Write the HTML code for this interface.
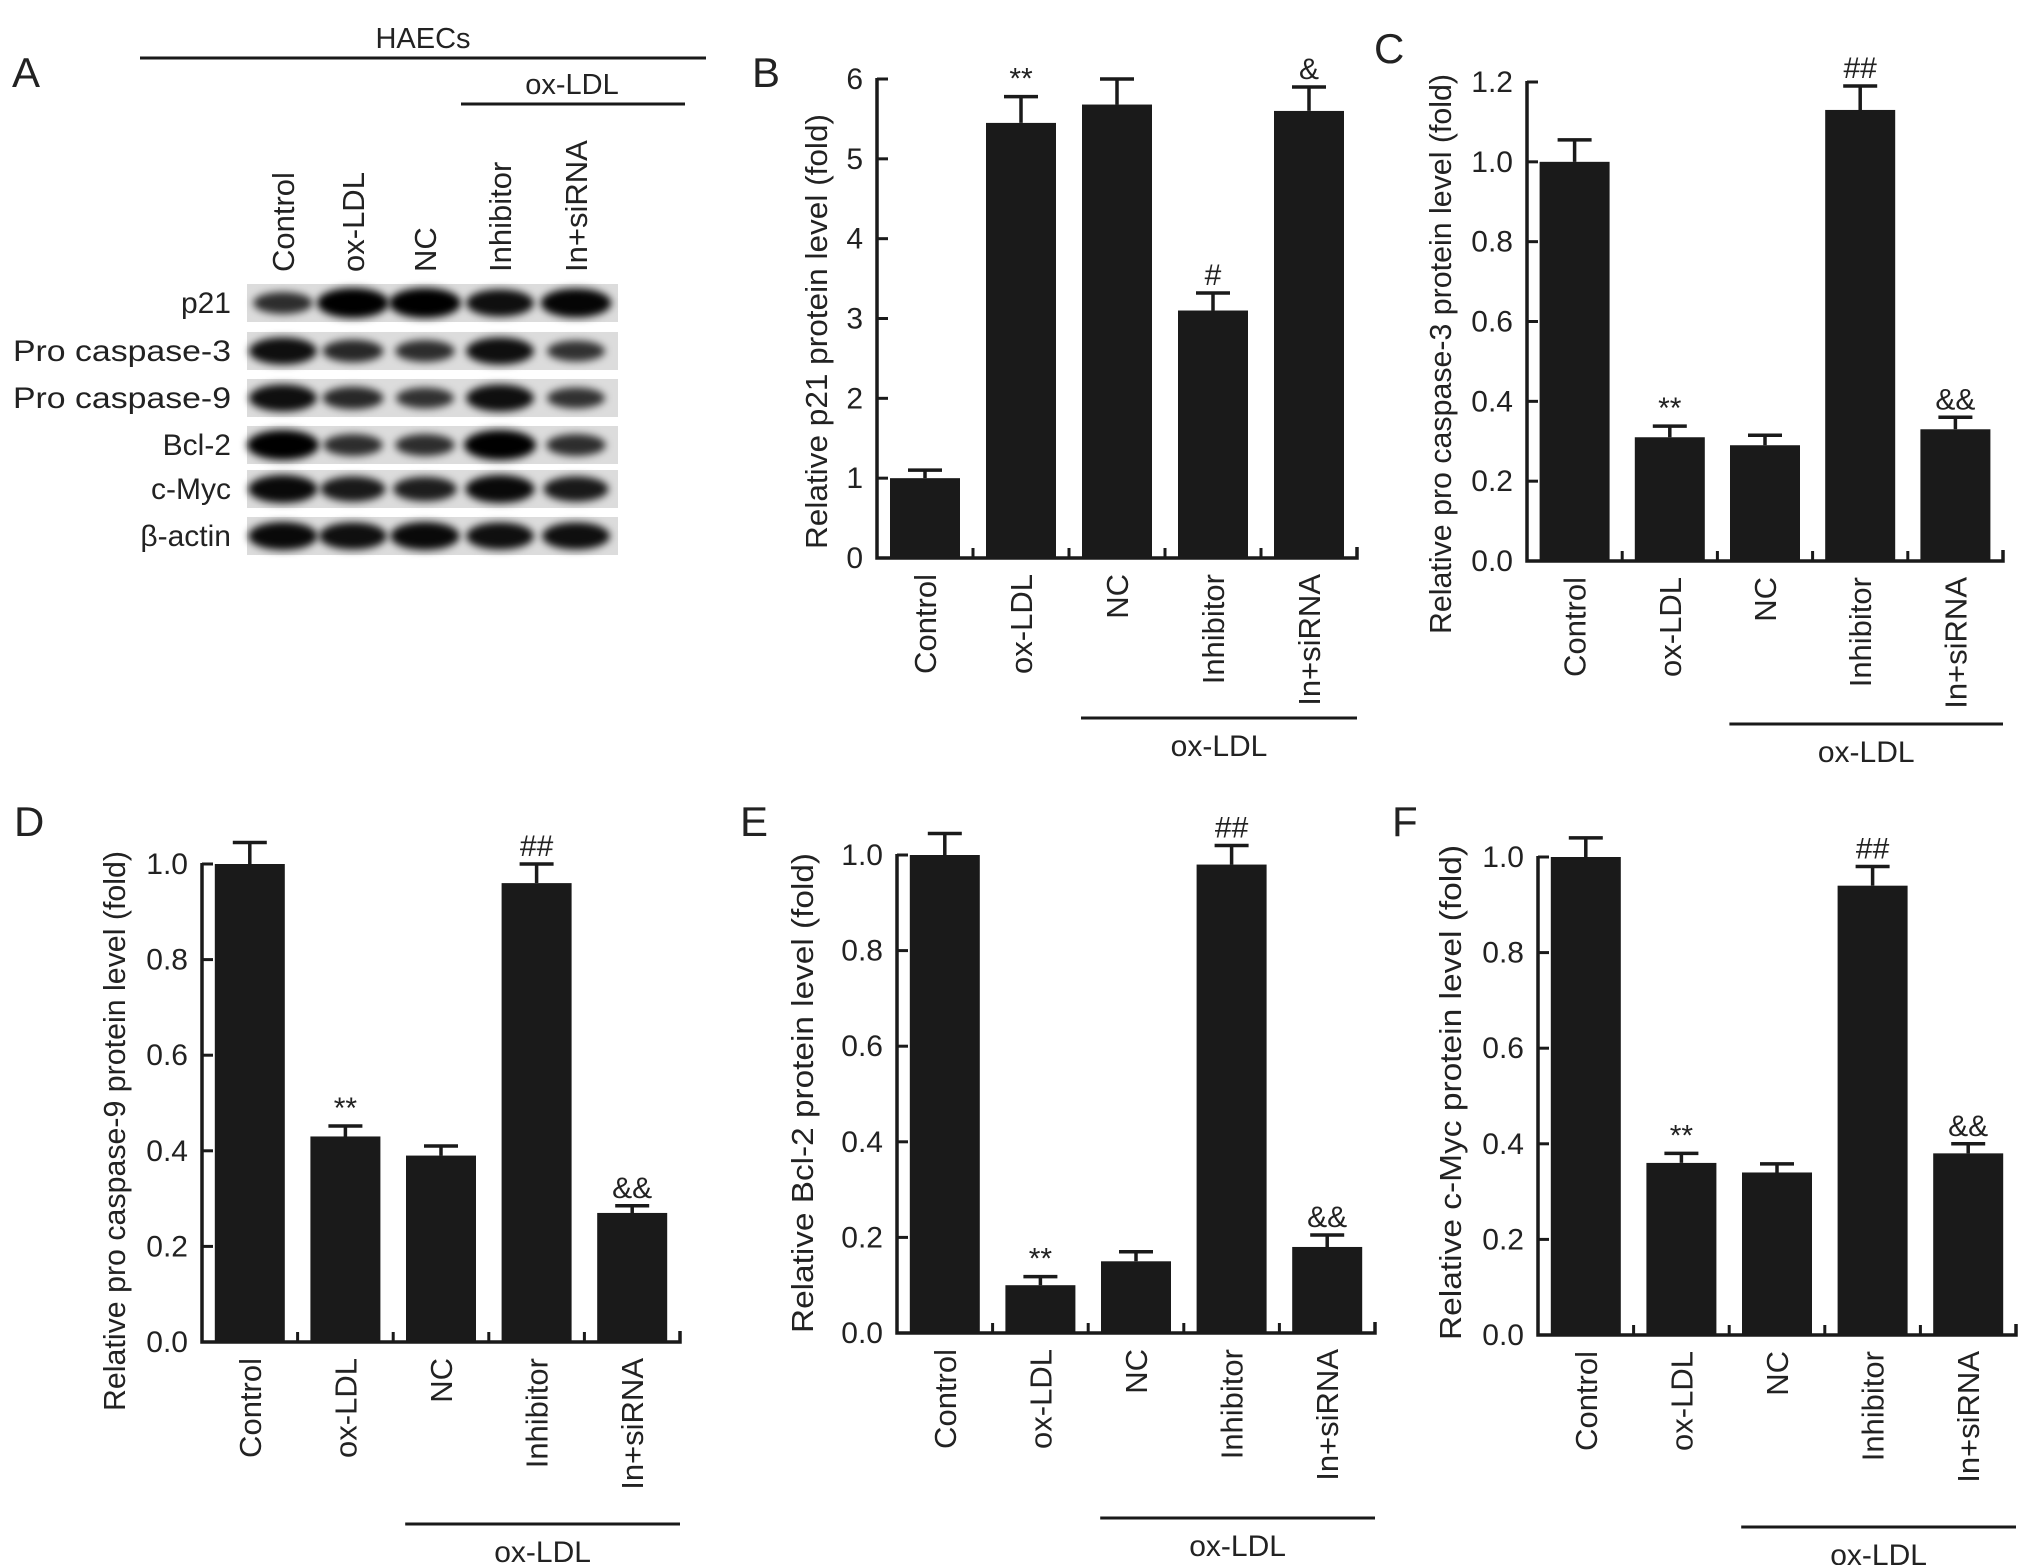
<!DOCTYPE html>
<html><head><meta charset="utf-8"><style>
html,body{margin:0;padding:0;background:#fff;overflow:hidden;}
svg{display:block;font-family:"Liberation Sans",Arial,sans-serif;}
</style></head><body>
<svg id="fig" width="2032" height="1565" viewBox="0 0 2032 1565">
<defs><filter id="blur" x="-30%" y="-80%" width="160%" height="260%"><feGaussianBlur stdDeviation="4"/></filter></defs>
<g id="panelA"></g>
<g id="charts"></g>
</svg>
<script>
// ---- shared categories ----
const categories = ['Control','ox-LDL','NC','Inhibitor','In+siRNA'];
// ---- Panel B: p21 ----
const valuesB = [1.0, 5.45, 5.68, 3.1, 5.6];
const errorsB = [0.1, 0.33, 0.32, 0.22, 0.3];
const marksB  = ['', '**', '', '#', '&'];
const ticksB  = [0,1,2,3,4,5,6];
const tickLabelsB = ['0','1','2','3','4','5','6'];
// ---- Panel C: pro caspase-3 ----
const valuesC = [1.0, 0.31, 0.29, 1.13, 0.33];
const errorsC = [0.055, 0.028, 0.025, 0.06, 0.03];
const marksC  = ['', '**', '', '##', '&&'];
const ticksC  = [0,0.2,0.4,0.6,0.8,1.0,1.2];
const tickLabelsC = ['0.0','0.2','0.4','0.6','0.8','1.0','1.2'];
// ---- Panel D: pro caspase-9 ----
const valuesD = [1.0, 0.43, 0.39, 0.96, 0.27];
const errorsD = [0.045, 0.022, 0.02, 0.04, 0.015];
const marksD  = ['', '**', '', '##', '&&'];
const ticksD  = [0,0.2,0.4,0.6,0.8,1.0];
const tickLabelsD = ['0.0','0.2','0.4','0.6','0.8','1.0'];
// ---- Panel E: Bcl-2 ----
const valuesE = [1.0, 0.10, 0.15, 0.98, 0.18];
const errorsE = [0.045, 0.018, 0.02, 0.04, 0.025];
const marksE  = ['', '**', '', '##', '&&'];
const ticksE  = [0,0.2,0.4,0.6,0.8,1.0];
const tickLabelsE = ['0.0','0.2','0.4','0.6','0.8','1.0'];
// ---- Panel F: c-Myc ----
const valuesF = [1.0, 0.36, 0.34, 0.94, 0.38];
const errorsF = [0.04, 0.02, 0.018, 0.04, 0.02];
const marksF  = ['', '**', '', '##', '&&'];
const ticksF  = [0,0.2,0.4,0.6,0.8,1.0];
const tickLabelsF = ['0.0','0.2','0.4','0.6','0.8','1.0'];
// ---- Panel A blot band intensities (rows x lanes) ----
const blotRows = ['p21','Pro caspase-3','Pro caspase-9','Bcl-2','c-Myc','β-actin'];
const bandP21 = [0.55, 1.0, 1.0, 0.85, 0.95];
const bandC3  = [0.85, 0.6, 0.55, 0.85, 0.5];
const bandC9  = [0.85, 0.6, 0.5, 0.85, 0.5];
const bandBcl = [1.0, 0.55, 0.55, 1.0, 0.55];
const bandMyc = [0.9, 0.75, 0.7, 0.9, 0.75];
const bandAct = [0.9, 0.85, 0.9, 0.85, 0.85];

const NS='http://www.w3.org/2000/svg';
function el(tag, attrs, parent, text){
  const e=document.createElementNS(NS,tag);
  for(const k in attrs) e.setAttribute(k,attrs[k]);
  if(text!==undefined) e.textContent=text;
  parent.appendChild(e); return e;
}

function drawChart(id, geo, values, errors, marks, ticks, tickLabels, title){
  const root=document.getElementById('charts');
  const g=el('g',{},root);
  
  
  const cw=(geo.x1-geo.x0)/categories.length;
  const yMax=ticks[ticks.length-1];
  const yS=v=>geo.y0-(v/yMax)*(geo.y0-geo.yTop);
  const xC=i=>geo.x0+cw*(i+0.5);
  const bw=70;
  values.forEach((v,i)=>{
    const x=xC(i)-bw/2, top=yS(v);
    const b=el('rect',{x:x,y:top,width:bw,height:geo.y0-top,fill:'#1a1a1a'},g);
    
    
    const et=yS(v+errors[i]);
    const eb=el('path',{d:`M${xC(i)},${top} V${et} M${xC(i)-17},${et} H${xC(i)+17}`,stroke:'#1a1a1a','stroke-width':3.5,fill:'none'},g);
    
    
    if(marks[i]){
      const m=el('text',{x:xC(i),y:et-8,'text-anchor':'middle','font-size':30,fill:'#222'},g,marks[i]);
      
      
    }
    const lbl=el('text',{x:0,y:0,'text-anchor':'end','font-size':31,fill:'#222',
      transform:`translate(${xC(i)+11},${geo.y0+16}) rotate(-90)`},g,categories[i]);
    
    
  });
  const ax=el('path',{d:`M${geo.x0},${geo.yTop-1} V${geo.y0} H${geo.x1} v-11`,stroke:'#1a1a1a','stroke-width':3.5,fill:'none'},g);
  
  
  for(let i=1;i<categories.length;i++){
    el('line',{x1:geo.x0+cw*i,x2:geo.x0+cw*i,y1:geo.y0,y2:geo.y0-10,stroke:'#1a1a1a','stroke-width':3},g);
  }
  ticks.forEach((t,i)=>{
    const y=yS(t);
    el('line',{x1:geo.x0,x2:geo.x0+11,y1:y,y2:y,stroke:'#1a1a1a','stroke-width':3},g);
    const tl=el('text',{x:geo.x0-14,y:y+10,'text-anchor':'end','font-size':30,fill:'#222'},g,tickLabels[i]);
    
    
  });
  const yt=el('text',{x:0,y:0,'text-anchor':'start','font-size':31,fill:'#222',textLength:geo.tl,lengthAdjust:'spacingAndGlyphs',
    transform:`translate(${geo.tx+11},${geo.tEnd}) rotate(-90)`},g,title);
  
  
  const lx0=geo.x0+2*cw+12;
  el('line',{x1:lx0,x2:geo.x1,y1:geo.gy,y2:geo.gy,stroke:'#1a1a1a','stroke-width':3},g);
  const gl=el('text',{x:(lx0+geo.x1)/2,y:geo.gy+38,'text-anchor':'middle','font-size':30,fill:'#222'},g,'ox-LDL');
  
  
  const pl=el('text',{x:geo.lx,y:geo.ly,'font-size':42,fill:'#222'},g,geo.letter);
  
  
}

drawChart('b',{x0:877,x1:1357,y0:558,yTop:79,tx:816,tEnd:549,tl:435,gy:718,lx:752,ly:87,letter:'B'},
  valuesB,errorsB,marksB,ticksB,tickLabelsB,'Relative p21 protein level (fold)');
drawChart('c',{x0:1527,x1:2003,y0:561,yTop:82,tx:1440,tEnd:634,tl:560,gy:724,lx:1374,ly:63,letter:'C'},
  valuesC,errorsC,marksC,ticksC,tickLabelsC,'Relative pro caspase-3 protein level (fold)');
drawChart('d',{x0:202,x1:680,y0:1342,yTop:864,tx:114,tEnd:1411,tl:560,gy:1524,lx:14,ly:836,letter:'D'},
  valuesD,errorsD,marksD,ticksD,tickLabelsD,'Relative pro caspase-9 protein level (fold)');
drawChart('e',{x0:897,x1:1375,y0:1333,yTop:855,tx:802,tEnd:1333,tl:480,gy:1518,lx:740,ly:836,letter:'E'},
  valuesE,errorsE,marksE,ticksE,tickLabelsE,'Relative Bcl-2 protein level (fold)');
drawChart('f',{x0:1538,x1:2016,y0:1335,yTop:857,tx:1450,tEnd:1340,tl:495,gy:1527,lx:1392,ly:836,letter:'F'},
  valuesF,errorsF,marksF,ticksF,tickLabelsF,'Relative c-Myc protein level (fold)');

(function(){
  const g=document.getElementById('panelA');
  const pl=el('text',{x:12,y:87,'font-size':42,fill:'#222'},g,'A');
  
  
  el('line',{x1:140,x2:706,y1:58,y2:58,stroke:'#1a1a1a','stroke-width':3},g);
  const h=el('text',{x:423,y:48,'text-anchor':'middle','font-size':29,fill:'#222'},g,'HAECs');
  
  
  el('line',{x1:461,x2:685,y1:104,y2:104,stroke:'#1a1a1a','stroke-width':3},g);
  const o=el('text',{x:572,y:94,'text-anchor':'middle','font-size':29,fill:'#222'},g,'ox-LDL');
  
  
  const laneX=[283,353,425,500,576];
  categories.forEach((c,i)=>{
    const t=el('text',{x:0,y:0,'font-size':31,fill:'#222',transform:`translate(${laneX[i]+11},272) rotate(-90)`},g,c);
    
    
  });
  const rowY=[303,351,398,445,489,536];
  const bands=[bandP21,bandC3,bandC9,bandBcl,bandMyc,bandAct];
  blotRows.forEach((r,ri)=>{
    const y=rowY[ri];
    const strip=el('rect',{x:247,y:y-19,width:371,height:38,fill:'#dcdcdc'},g);
    
    
    bands[ri].forEach((v,li)=>{
      const b=el('ellipse',{cx:laneX[li],cy:y,rx:22+14*v,ry:6+9*v,fill:'#000','fill-opacity':0.55+0.45*v,filter:'url(#blur)'},g);
      
      
    });
    const lab=el('text',{x:231,y:y+10,'text-anchor':'end','font-size':30,fill:'#222'},g,r);
    if(r.startsWith('Pro')){lab.setAttribute('textLength',218);lab.setAttribute('lengthAdjust','spacingAndGlyphs');}
    
    
  });
})();
</script>
</body></html>
